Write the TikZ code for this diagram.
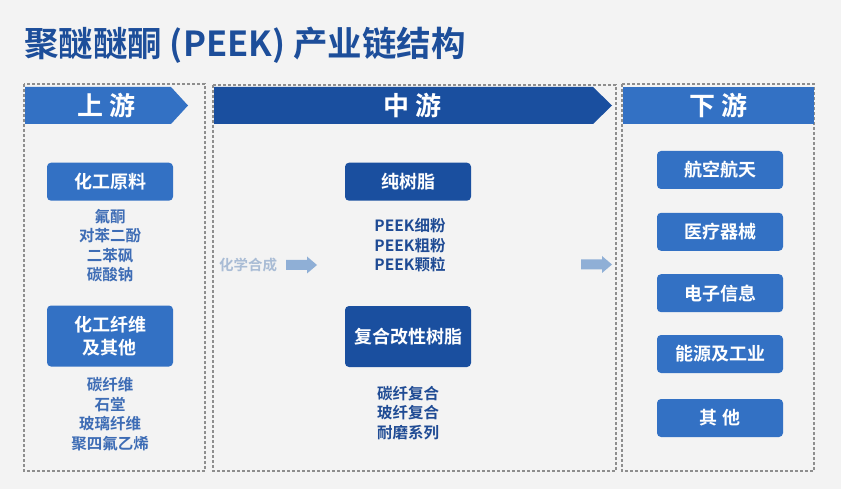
\documentclass[tikz,border=0pt]{standalone}
\usepackage{fontspec}
\setmainfont{Noto Sans CJK SC}[BoldFont={Noto Sans CJK SC Bold}]
\usepackage{xcolor}
\usetikzlibrary{positioning}

\definecolor{bggray}{HTML}{F3F3F3}
\definecolor{titleblue}{HTML}{1D4E9A}
\definecolor{lightblue}{HTML}{3371C4}
\definecolor{darkblue}{HTML}{1A4F9F}
\definecolor{uptext}{HTML}{3D6CB5}
\definecolor{midtext}{HTML}{1F4B94}
\definecolor{zonegray}{HTML}{8E8E8E}
\definecolor{flowblue}{HTML}{8FAFD6}
\definecolor{flowtext}{HTML}{A9BCD5}

\tikzset{
    zone/.style={draw=zonegray, dash pattern=on 3pt off 2pt, line width=1.1pt},
    headtext/.style={text=white, font=\fontsize{26}{30}\selectfont\bfseries},
    catbox/.style={rounded corners=4pt, minimum width=126pt, inner sep=0pt, text=white, align=center, font=\fontsize{18}{23}\selectfont\bfseries},
    itemlist/.style={align=center, inner sep=0pt, font=\fontsize{15.5}{19.5}\selectfont\bfseries}
}
% block arrow starting at a named coordinate
\newcommand{\flowarrow}[1]{\fill[flowblue] ([yshift=5pt]#1) -- ++(21, 0) -- ++(0, -3.5) -- ++(10, 8.5) -- ++(-10, 8.5) -- ++(0, -3.5) -- ++(-21, 0) -- cycle;}

\begin{document}
\begin{tikzpicture}[x=1pt, y=-1pt]
    \fill[bggray] (0, 0) rectangle (841, 489);
    \useasboundingbox (0, 0) rectangle (841, 489);

    % title
    \node[anchor=west, inner sep=0pt, text=titleblue, font=\fontsize{34.5}{40}\selectfont\bfseries] (title) at (24, 45) {聚醚醚酮 (PEEK) 产业链结构};

    % three zones
    \draw[zone] (24, 84) rectangle (205, 471);
    \draw[zone] (213, 85) rectangle (616, 471);
    \draw[zone] (622, 84) rectangle (814, 471);

    % headers
    \fill[lightblue] (25, 87) -- (171, 87) -- (188, 105.5) -- (171, 124) -- (25, 124) -- cycle;
    \node[headtext] (up) at (106.5, 105.5) {上 游};
    \fill[darkblue] (214, 87) -- (593, 87) -- (612, 105.5) -- (593, 124) -- (214, 124) -- cycle;
    \node[headtext] (mid) at (412.5, 105.5) {中 游};
    \fill[lightblue] (623, 87) rectangle (814, 124);
    \node[headtext] (down) at (718.5, 105.5) {下 游};

    % upstream
    \node[catbox, fill=lightblue, minimum height=38pt] (u1) at (110, 181.7) {化工原料};
    \node[itemlist, text=uptext] (u1list) at (110, 245.5) {氟酮\\对苯二酚\\二苯砜\\碳酸钠};
    \node[catbox, fill=lightblue, minimum height=61pt] (u2) at (110, 336) {化工纤维\\及其他};
    \node[itemlist, text=uptext] (u2list) at (110, 414) {碳纤维\\石堂\\玻璃纤维\\聚四氟乙烯};

    % midstream
    \node[catbox, fill=darkblue, minimum height=38pt] (m1) at (408, 181.7) {纯树脂};
    \node[itemlist, text=midtext] (m1list) at (410, 245.3) {PEEK细粉\\PEEK粗粉\\PEEK颗粒};
    \node[catbox, fill=darkblue, minimum height=61pt] (m2) at (408, 336.5) {复合改性树脂};
    \node[itemlist, text=midtext] (m2list) at (408, 413) {碳纤复合\\玻纤复合\\耐磨系列};

    \node[anchor=west, inner sep=0pt, text=flowtext, font=\fontsize{14.5}{17}\selectfont\bfseries] (synth) at (219, 265) {化学合成};
    \coordinate (f1) at (286, 265);
    \coordinate (f2) at (581, 264.5);
    \flowarrow{f1}
    \flowarrow{f2}

    % downstream
    \node[catbox, fill=lightblue, minimum height=38pt] (d1) at (720, 170) {航空航天};
    \node[catbox, fill=lightblue, minimum height=38pt] (d2) at (720, 231.8) {医疗器械};
    \node[catbox, fill=lightblue, minimum height=38pt] (d3) at (720, 293.2) {电子信息};
    \node[catbox, fill=lightblue, minimum height=38pt] (d4) at (720, 354) {能源及工业};
    \node[catbox, fill=lightblue, minimum height=38pt] (d5) at (720, 418) {其 他};
\end{tikzpicture}
\end{document}
